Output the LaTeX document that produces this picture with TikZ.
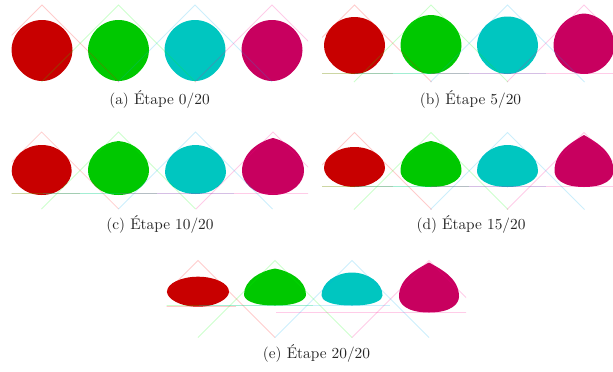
\documentclass[tikz,border=0pt]{standalone}
\usepackage{tikz}

\definecolor{dropred}{RGB}{200,0,0}
\definecolor{dropgreen}{RGB}{0,200,0}
\definecolor{dropcyan}{RGB}{0,198,192}
\definecolor{dropmagenta}{RGB}{200,0,95}
\definecolor{linemagenta}{RGB}{255,0,140}

\tikzset{
    wedgeline/.style={draw=#1, draw opacity=0.2, line width=0.5pt},
    floorline/.style={draw=#1, draw opacity=0.2, line width=0.5pt},
    caption/.style={font=\normalsize, text=black!85}
}

% drop: colour, centre x, bottom y, half width, height, height of widest point, bottom flatness, top pointiness
\newcommand{\drop}[8]{%
    \fill[#1] (#2,#3)
        .. controls ({#2+#7*#4},#3) and ({#2+#4},{#3-0.55*#6}) .. ({#2+#4},{#3-#6})
        .. controls ({#2+#4},{#3-#6-0.55*(#5-#6)}) and ({#2+(0.55-#8)*#4},{#3-#5+#8*(#5-#6)}) .. (#2,{#3-#5})
        .. controls ({#2-(0.55-#8)*#4},{#3-#5+#8*(#5-#6)}) and ({#2-#4},{#3-#6-0.55*(#5-#6)}) .. ({#2-#4},{#3-#6})
        .. controls ({#2-#4},{#3-0.55*#6}) and ({#2-#7*#4},#3) .. cycle;
}

\begin{document}
\begin{tikzpicture}[x=0.652pt,y=-0.652pt]
    \useasboundingbox (0,0) rectangle (613,371);

    % (a) step 0
    \begin{scope}
        \clip (11.7,0) rectangle (308,95);
        \foreach \col/\cx in {dropred/42,dropgreen/118.5,dropcyan/195,dropmagenta/272} {
            \drop{\col}{\cx}{81}{30.5}{61}{30.5}{0.55}{0}
        }
        \foreach \col/\cx in {red/42,green/118.5,cyan/195,linemagenta/272} {
            \draw[wedgeline=\col] ({\cx-77},82) -- (\cx,5) -- ({\cx+77},82);
        }
    \end{scope}
    \node[caption] (capa) at (159.5,99) {(a) Étape 0/20};

    % (b) step 5
    \begin{scope}
        \clip (322,0) rectangle (613,95);
        \foreach \col/\cx/\h/\fl/\pt in {dropred/354.5/57/0.56/0,dropgreen/431/59/0.56/0.01,dropcyan/507.5/57.5/0.56/0,dropmagenta/584/60.5/0.58/0.03} {
            \drop{\col}{\cx}{74}{30.5}{\h}{28}{\fl}{\pt}
        }
        \foreach \col/\cx in {red/354.5,green/431,cyan/507.5,linemagenta/584} {
            \draw[wedgeline=\col] ({\cx-77},82) -- (\cx,5) -- ({\cx+77},82);
            \draw[floorline=\col] ({\cx-153},73.5) -- ({\cx+38},73.5);
        }
    \end{scope}
    \node[caption] (capb) at (470.5,99) {(b) Étape 5/20};

    % (c) step 10
    \begin{scope}
        \clip (11.7,120) rectangle (308,215);
        \foreach \col/\cx/\bot/\w/\h/\s/\fl/\pt in {dropred/41.7/195/30/50/24/0.6/0,dropgreen/118.5/195/30.5/54/24/0.62/0.04,dropcyan/195.5/194/30.5/49/22/0.62/0.01,dropmagenta/273/195/31/57/24/0.65/0.1} {
            \drop{\col}{\cx}{\bot}{\w}{\h}{\s}{\fl}{\pt}
        }
        \foreach \col/\cx in {red/41.7,green/118.5,cyan/195.5,linemagenta/273} {
            \draw[wedgeline=\col] ({\cx-77},209) -- (\cx,132) -- ({\cx+77},209);
            \draw[floorline=\col] ({\cx-153},193.5) -- ({\cx+38},193.5);
        }
    \end{scope}
    \node[caption] (capc) at (160,224) {(c) Étape 10/20};

    % (d) step 15
    \begin{scope}
        \clip (322,120) rectangle (613,215);
        \foreach \col/\cx/\w/\h/\s/\fl/\pt in {dropred/354.5/30.5/40/19/0.6/0,dropgreen/431/30.5/46/16/0.7/0.08,dropcyan/507.5/30.5/42/16/0.7/0.01,dropmagenta/584/29.5/52/16/0.75/0.18} {
            \drop{\col}{\cx}{187}{\w}{\h}{\s}{\fl}{\pt}
        }
        \foreach \col/\cx in {red/354.5,green/431,cyan/507.5,linemagenta/584} {
            \draw[wedgeline=\col] ({\cx-77},209.5) -- (\cx,132.5) -- ({\cx+77},209.5);
            \draw[floorline=\col] ({\cx-153},186.5) -- ({\cx+38},186.5);
        }
    \end{scope}
    \node[caption] (capd) at (471,224) {(d) Étape 15/20};

    % (e) step 20
    \begin{scope}
        \clip (166.7,250) rectangle (466,345);
        \foreach \col/\cx/\bot/\w/\h/\s/\fl/\pt in {dropred/198/306.7/31/30/15/0.6/0,dropgreen/275/305.5/31/37/11/0.75/0.09,dropcyan/352/305.5/30.5/33/10/0.75/0.01,dropmagenta/429/312.5/30/50/16/0.75/0.18} {
            \drop{\col}{\cx}{\bot}{\w}{\h}{\s}{\fl}{\pt}
        }
        \foreach \col/\cx/\bot in {red/198/306,green/275/305.5,cyan/352/305.5,linemagenta/429/312} {
            \draw[wedgeline=\col] ({\cx-77},337.5) -- (\cx,260.5) -- ({\cx+77},337.5);
            \draw[floorline=\col] ({\cx-153},\bot) -- ({\cx+38},\bot);
        }
    \end{scope}
    \node[caption] (cape) at (316.5,353) {(e) Étape 20/20};
\end{tikzpicture}
\end{document}
